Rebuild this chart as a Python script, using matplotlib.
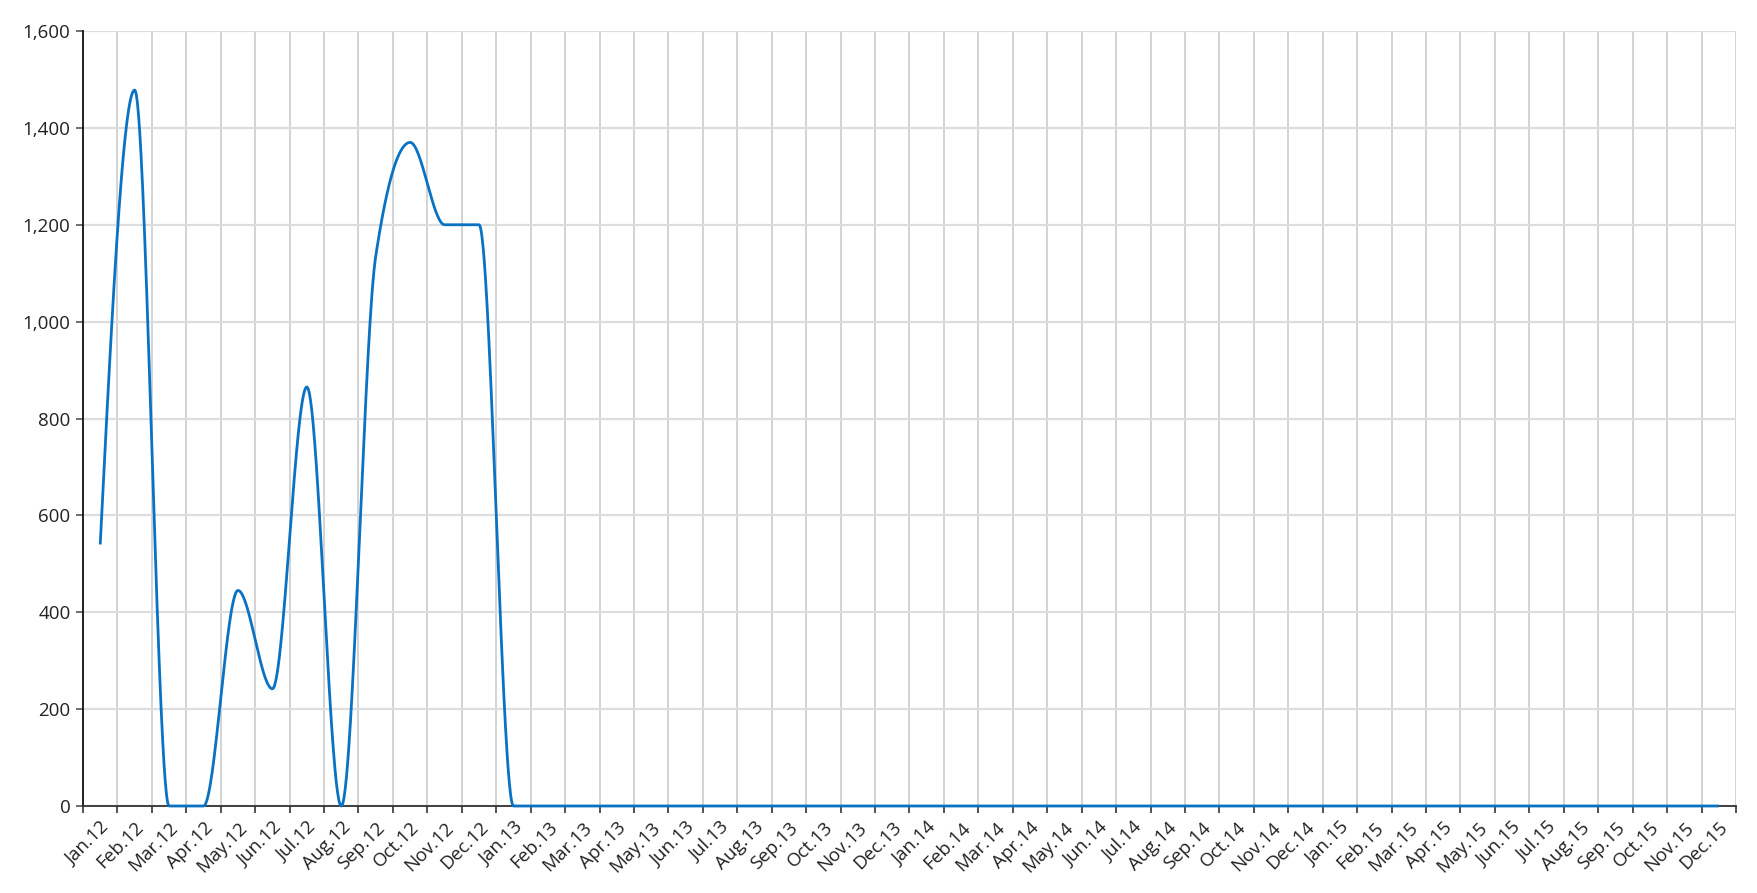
import matplotlib
matplotlib.use('Agg')
import matplotlib.pyplot as plt
from matplotlib.ticker import FuncFormatter
import numpy as np

# données mensuelles
months = ['Jan', 'Feb', 'Mar', 'Apr', 'May', 'Jun',
          'Jul', 'Aug', 'Sep', 'Oct', 'Nov', 'Dec']
years = ['12', '13', '14', '15']
labels = [m + '.' + y for y in years for m in months]

values_2012 = [540, 1478, 0, 0, 445, 242, 865, 0, 1135, 1370, 1200, 1200]
values_2013 = [0] * 12
values_2014 = [0] * 12
values_2015 = [0] * 12
values = values_2012 + values_2013 + values_2014 + values_2015

LINE_COLOR = '#0a72c2'
TEXT_COLOR = '#222222'

plt.rcParams['font.family'] = ['Open Sans', 'DejaVu Sans']


def monotone_curve(y, n_seg=60):
    # courbe monotone (méthode de Steffen, comme d3.curveMonotoneX)
    y = np.asarray(y, dtype=float)
    x = np.arange(len(y), dtype=float)
    s = np.diff(y)  # pas = 1
    t = np.zeros(len(y))
    for i in range(1, len(y) - 1):
        s0, s1 = s[i - 1], s[i]
        p = (s0 + s1) / 2
        t[i] = (np.sign(s0) + np.sign(s1)) * min(abs(s0), abs(s1), 0.5 * abs(p))
    t[0] = (3 * s[0] - t[1]) / 2
    t[-1] = (3 * s[-1] - t[-2]) / 2
    xs, ys = [], []
    u = np.linspace(0, 1, n_seg, endpoint=False)
    for i in range(len(y) - 1):
        h00 = 2 * u**3 - 3 * u**2 + 1
        h10 = u**3 - 2 * u**2 + u
        h01 = -2 * u**3 + 3 * u**2
        h11 = u**3 - u**2
        xs.append(x[i] + u)
        ys.append(h00 * y[i] + h10 * t[i] + h01 * y[i + 1] + h11 * t[i + 1])
    xs.append([x[-1]])
    ys.append([y[-1]])
    return np.concatenate(xs), np.concatenate(ys)


fig = plt.figure(figsize=(17.58, 8.93), dpi=100)
ax = fig.add_axes([83 / 1758, 87 / 893, (1736 - 83) / 1758, (806 - 31) / 893])

cx, cy = monotone_curve(values)
ax.plot(cx, cy, color=LINE_COLOR, linewidth=2, solid_capstyle='butt', zorder=3, clip_on=False)

# axes
ax.set_xlim(-0.5, len(labels) - 0.5)
ax.set_ylim(0, 1600)
ax.set_yticks(np.arange(0, 1601, 200))
ax.yaxis.set_major_formatter(FuncFormatter(lambda v, _: f'{int(v):,}'))

ax.set_xticks(np.arange(-0.5, len(labels), 1.0))
ax.set_xticklabels([])
ax.set_xticks(np.arange(len(labels)), minor=True)
ax.set_xticklabels(labels, minor=True, rotation=45, ha='right', va='top',
                   rotation_mode='anchor', fontsize=13.5, color=TEXT_COLOR)
ax.tick_params(axis='x', which='major', length=5, width=1.2, color='#333333', direction='out')
ax.tick_params(axis='x', which='minor', length=0, pad=9)
ax.tick_params(axis='y', length=5, width=1.2, color='#555555', labelsize=13.5,
               labelcolor=TEXT_COLOR, pad=4)

# grille
ax.grid(axis='x', which='major', color='#cccccc', linewidth=1.2)
ax.grid(axis='y', color='#dddddd', linewidth=1.6)
ax.set_axisbelow(True)

for side in ['top', 'right']:
    ax.spines[side].set_visible(False)
ax.spines['left'].set_color('#111111')
ax.spines['bottom'].set_color('#333333')
ax.spines['left'].set_linewidth(1.3)
ax.spines['bottom'].set_linewidth(1.3)

fig.savefig('out.png', dpi=100)
